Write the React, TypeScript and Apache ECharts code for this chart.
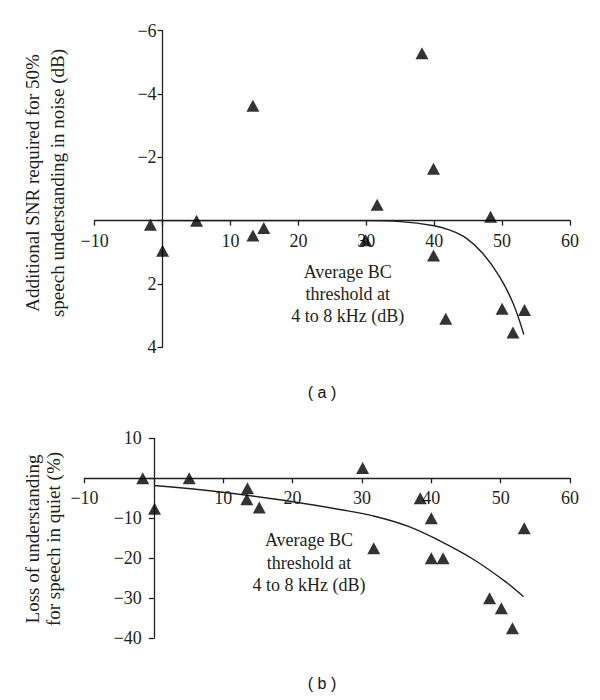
import React, { useEffect, useRef } from "react";
import * as echarts from "echarts";

// Panel (a): additional SNR required in noise
const noiseThreshold = [-1.8, 0, 5.0, 13.3, 13.3, 14.9, 29.9, 31.6, 38.2, 39.9, 39.9, 41.7, 48.3, 50.0, 51.6, 53.3];
const noiseSNR = [0.13, 0.95, 0.0, -3.63, 0.47, 0.23, 0.62, -0.5, -5.29, -1.64, 1.1, 3.1, -0.12, 2.78, 3.53, 2.82];
const noiseFitX = [0, 10, 20, 30, 35, 40, 42.2, 44.7, 47.1, 49.6, 51.6, 53.2];
const noiseFitY = [0, 0, 0, 0, 0.03, 0.16, 0.29, 0.55, 1.02, 1.76, 2.6, 3.6];

// Panel (b): loss of understanding in quiet
const quietThreshold = [-1.6, 0.1, 5.1, 13.5, 13.4, 15.2, 30.1, 31.7, 38.4, 40.0, 40.0, 41.7, 48.4, 50.1, 51.7, 53.4];
const quietLoss = [0, -7.6, 0, -2.5, -5.25, -7.3, 2.6, -17.5, -5.0, -10, -20, -20, -30, -32.5, -37.5, -12.5];
const quietFitX = [0, 9, 18.7, 26.8, 31.6, 36.5, 41.3, 46.1, 50.9, 53.3];
const quietFitY = [-1.8, -3.3, -5.5, -7.8, -9.4, -11.9, -15.7, -20.3, -26.1, -29.6];

const xTicks = { min: -10, max: 60, interval: 10 };
const noiseTicks = { min: -6, max: 4, interval: 2 };
const quietTicks = { min: -40, max: 10, interval: 10 };

const axisTitleA = ["Additional SNR required for 50%", "speech understanding in noise (dB)"];
const axisTitleB = ["Loss of understanding", "for speech in quiet (%)"];
const xNote = ["Average BC", "threshold at", "4 to 8 kHz (dB)"];

const INK = "#231f20";
const SERIF = "Liberation Serif";
const SANS = "Liberation Sans";

const W = 600;
// grid layouts
const gA = { left: 94.7, right: 30, top: 30.7, height: 316.6 };
const gB = { left: 84.5, right: 30, top: 438.3, height: 200 };

const fmt = (v: number) => (v === 0 ? "" : v < 0 ? "\u2212" + Math.abs(v) : String(v));

// distance from grid edge to the zero line of an axis range
const zeroFrom = (min: number, max: number, len: number) => ((0 - min) / (max - min)) * len;

export default function App() {
  const ref = useRef<HTMLDivElement>(null);
  useEffect(() => {
    document.body.style.margin = "0";
    if (!ref.current) return;
    const chart = echarts.init(ref.current, undefined, { renderer: "svg" });
    const axisLine = { onZero: false, lineStyle: { color: INK, width: 1.3 } };
    const axisTick = { show: true, length: 5, lineStyle: { color: INK, width: 1.3 } };
    const wA = W - gA.left - gA.right;
    const wB = W - gB.left - gB.right;
    const xLabel = { formatter: fmt, color: INK, fontFamily: SERIF, fontSize: 18, margin: 11 };
    chart.setOption({
      animation: false,
      backgroundColor: "#ffffff",
      grid: [
        { ...gA, containLabel: false, outerBoundsMode: "none" },
        { ...gB, containLabel: false, outerBoundsMode: "none" },
      ],
      xAxis: [
        {
          type: "value",
          gridIndex: 0,
          ...xTicks,
          position: "bottom",
          // sits on y = 0 (y axis is inverted: zero measured from top)
          offset: -(gA.height - zeroFrom(noiseTicks.min, noiseTicks.max, gA.height)),
          axisLine,
          axisTick,
          splitLine: { show: false },
          axisLabel: xLabel,
        },
        {
          type: "value",
          gridIndex: 1,
          ...xTicks,
          position: "bottom",
          offset: -zeroFrom(quietTicks.min, quietTicks.max, gB.height),
          axisLine,
          axisTick,
          splitLine: { show: false },
          axisLabel: xLabel,
        },
      ],
      yAxis: [
        {
          type: "value",
          gridIndex: 0,
          ...noiseTicks,
          inverse: true,
          position: "left",
          offset: -zeroFrom(xTicks.min, xTicks.max, wA),
          axisLine,
          axisTick,
          splitLine: { show: false },
          axisLabel: { formatter: fmt, color: INK, fontFamily: SERIF, fontSize: 18, margin: 6 },
        },
        {
          type: "value",
          gridIndex: 1,
          ...quietTicks,
          position: "left",
          offset: -zeroFrom(xTicks.min, xTicks.max, wB),
          axisLine,
          axisTick,
          splitLine: { show: false },
          axisLabel: { formatter: fmt, color: INK, fontFamily: SERIF, fontSize: 18, margin: 12 },
        },
      ],
      series: [
        {
          type: "line",
          xAxisIndex: 0,
          yAxisIndex: 0,
          data: noiseFitX.map((x, i) => [x, noiseFitY[i]]),
          smooth: 0.4,
          showSymbol: false,
          lineStyle: { color: INK, width: 1.4 },
          z: 2,
        },
        {
          type: "scatter",
          xAxisIndex: 0,
          yAxisIndex: 0,
          data: noiseThreshold.map((x, i) => [x, noiseSNR[i]]),
          symbol: "triangle",
          symbolSize: [13, 12],
          itemStyle: { color: "#000000" },
          z: 3,
        },
        {
          type: "line",
          xAxisIndex: 1,
          yAxisIndex: 1,
          data: quietFitX.map((x, i) => [x, quietFitY[i]]),
          smooth: 0.4,
          showSymbol: false,
          lineStyle: { color: INK, width: 1.4 },
          z: 2,
        },
        {
          type: "scatter",
          xAxisIndex: 1,
          yAxisIndex: 1,
          data: quietThreshold.map((x, i) => [x, quietLoss[i]]),
          symbol: "triangle",
          symbolSize: [13, 12],
          itemStyle: { color: "#000000" },
          z: 3,
        },
      ],
      graphic: [
        {
          type: "text",
          x: 44.5,
          y: 183,
          rotation: Math.PI / 2,
          style: {
            text: axisTitleA.join("\n"),
            fontFamily: SERIF,
            fontSize: 19,
            lineHeight: 25,
            fill: INK,
            textAlign: "center",
            textVerticalAlign: "middle",
          },
        },
        {
          type: "text",
          x: 42.5,
          y: 539,
          rotation: Math.PI / 2,
          style: {
            text: axisTitleB.join("\n"),
            fontFamily: SERIF,
            fontSize: 19,
            lineHeight: 21,
            fill: INK,
            textAlign: "center",
            textVerticalAlign: "middle",
          },
        },
        {
          type: "text",
          x: 347.7,
          y: 294,
          style: {
            text: xNote.join("\n"),
            fontFamily: SERIF,
            fontSize: 18,
            lineHeight: 22,
            fill: INK,
            textAlign: "center",
            textVerticalAlign: "middle",
          },
        },
        {
          type: "text",
          x: 309,
          y: 562.5,
          style: {
            text: xNote.join("\n"),
            fontFamily: SERIF,
            fontSize: 18,
            lineHeight: 22.5,
            fill: INK,
            textAlign: "center",
            textVerticalAlign: "middle",
          },
        },
        {
          type: "text",
          x: 322,
          y: 392,
          style: {
            text: "( a )",
            fontFamily: SANS,
            fontSize: 16,
            fill: "#111111",
            textAlign: "center",
            textVerticalAlign: "middle",
          },
        },
        {
          type: "text",
          x: 322,
          y: 683,
          style: {
            text: "( b )",
            fontFamily: SANS,
            fontSize: 16,
            fill: "#111111",
            textAlign: "center",
            textVerticalAlign: "middle",
          },
        },
      ],
    });
    return () => chart.dispose();
  }, []);
  return <div ref={ref} style={{ width: 600, height: 700 }} />;
}
